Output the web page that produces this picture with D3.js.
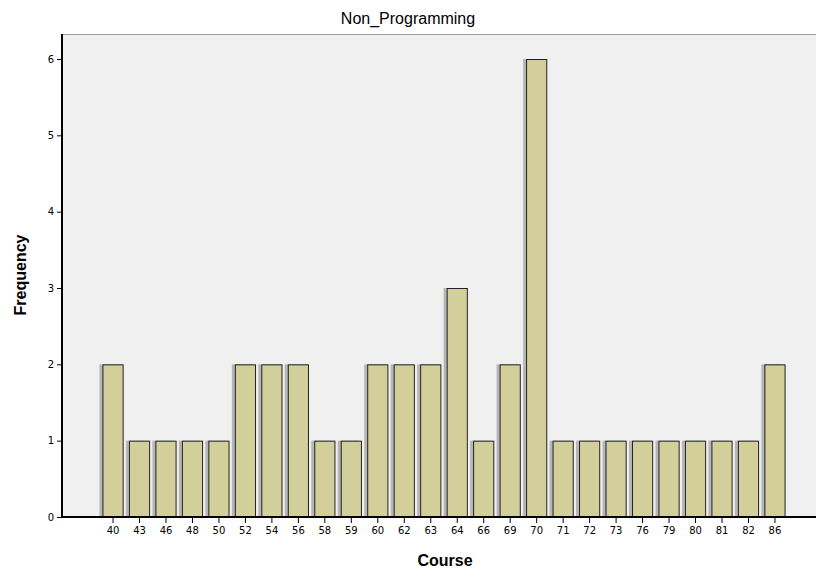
<!DOCTYPE html>
<html><head><meta charset="utf-8">
<script src="https://cdn.jsdelivr.net/npm/d3@7"></script>
<style>body{margin:0;background:#fff;} svg{display:block;}</style>
</head><body>
<svg id="c" width="816" height="569"></svg>
<script>
const categories = ["40","43","46","48","50","52","54","56","58","59","60","62","63","64","66","69","70","71","72","73","76","79","80","81","82","86"];
const values = [2,1,1,1,1,2,2,2,1,1,2,2,2,3,1,2,6,1,1,1,1,1,1,1,1,2];
const yTicks = [0,1,2,3,4,5,6];
const titleText = "Non_Programming";
const xTitle = "Course";
const yTitle = "Frequency";

const svg = d3.select("#c");
const plot = {left:62, right:816, top:34, bottom:517};

svg.append("rect").attr("x",plot.left).attr("y",plot.top)
  .attr("width",plot.right-plot.left).attr("height",plot.bottom-plot.top)
  .attr("fill","#f0f0f0");
svg.append("line").attr("x1",plot.left).attr("x2",plot.right).attr("y1",plot.top+0.5).attr("y2",plot.top+0.5)
  .attr("stroke","#999").attr("stroke-width",1);

const x = d3.scaleBand().domain(categories).range([99.8, 788.2]).paddingInner(0.2).paddingOuter(0.1);
const y = d3.scaleLinear().domain([0,6]).range([plot.bottom, 59]);

const g = svg.append("g");
categories.forEach((c,i)=>{
  const bx = x(c), bw = x.bandwidth(), by = y(values[i]), bh = plot.bottom - y(values[i]);
  g.append("rect").attr("x",bx-3).attr("y",by).attr("width",bw).attr("height",bh)
    .attr("fill","#a8a8a8").attr("opacity",0.8);
  g.append("rect").attr("x",bx+0.5).attr("y",by+0.5).attr("width",bw-1).attr("height",bh-0.5)
    .attr("fill","#d3cf9b").attr("stroke","#222").attr("stroke-width",1);
});

const yAxis = svg.append("g").attr("transform",`translate(${plot.left},0)`)
  .call(d3.axisLeft(y).tickValues(yTicks).tickSize(5).tickPadding(3).tickFormat(d3.format("d")));
yAxis.select(".domain").attr("stroke","#000").attr("stroke-width",2).attr("d",`M0,${plot.top}V${plot.bottom}`);
yAxis.selectAll("text").attr("font-family","DejaVu Sans, sans-serif").attr("font-size",10).attr("fill","#000");
yAxis.selectAll(".tick line").attr("stroke","#000");

const xAxis = svg.append("g").attr("transform",`translate(0,${plot.bottom})`)
  .call(d3.axisBottom(x).tickSize(6).tickPadding(4));
xAxis.select(".domain").attr("stroke","#000").attr("stroke-width",2).attr("d",`M${plot.left},0H${plot.right}`);
xAxis.selectAll("text").attr("font-family","DejaVu Sans, sans-serif").attr("font-size",10).attr("fill","#000");
xAxis.selectAll(".tick line").attr("stroke","#000");

svg.append("text").attr("x",408).attr("y",24).attr("text-anchor","middle")
  .attr("font-family","Liberation Sans, Arial, sans-serif").attr("font-size",16).text(titleText);
svg.append("text").attr("x",445).attr("y",566).attr("text-anchor","middle")
  .attr("font-family","Liberation Sans, Arial, sans-serif").attr("font-size",16).attr("font-weight","bold").text(xTitle);
svg.append("text").attr("transform","translate(26,275) rotate(-90)").attr("text-anchor","middle")
  .attr("font-family","Liberation Sans, Arial, sans-serif").attr("font-size",16).attr("font-weight","bold").text(yTitle);
</script>
</body></html>
